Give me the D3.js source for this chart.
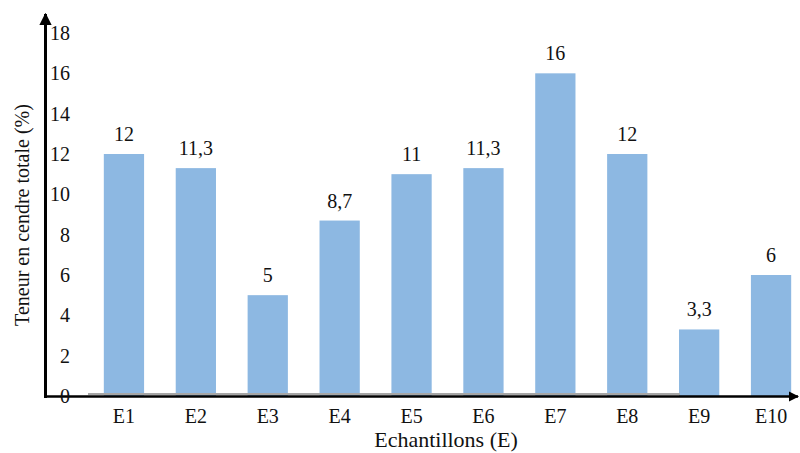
<!DOCTYPE html>
<html>
<head>
<meta charset="utf-8">
<script src="https://cdn.jsdelivr.net/npm/d3@7"></script>
</head>
<body style="margin:0">
<svg id="chart" width="800" height="453"></svg>
<script>
// Ash content per sample
const categories = ["E1", "E2", "E3", "E4", "E5", "E6", "E7", "E8", "E9", "E10"];
const values = [12, 11.3, 5, 8.7, 11, 11.3, 16, 12, 3.3, 6];
const yTicks = [0, 2, 4, 6, 8, 10, 12, 14, 16, 18];
const yTitle = "Teneur en cendre totale (%)";
const xTitle = "Echantillons (E)";

const FONT = "'Liberation Serif'";
const svg = d3.select("#chart");
const fmt = v => String(v).replace(".", ",");

const x = d3.scaleBand()
  .domain(categories)
  .range([88, 807])
  .paddingInner(0.44)
  .paddingOuter(0.22);

const y = d3.scaleLinear().domain([0, 18]).range([396, 33]);

// bars
svg.append("g").selectAll("rect")
  .data(categories)
  .join("rect")
  .attr("x", d => x(d))
  .attr("width", x.bandwidth())
  .attr("y", (d, i) => y(values[i]))
  .attr("height", (d, i) => y(0) - y(values[i]))
  .attr("fill", "#8db8e2");

// value labels
svg.append("g").selectAll("text")
  .data(categories)
  .join("text")
  .attr("x", d => x(d) + x.bandwidth() / 2)
  .attr("y", (d, i) => y(values[i]) - 13)
  .attr("text-anchor", "middle")
  .attr("font-size", 20)
  .style("font-family", FONT)
  .attr("fill", "#111")
  .text((d, i) => fmt(values[i]));

// gray plot baseline
svg.append("line")
  .attr("x1", 88).attr("x2", 680)
  .attr("y1", 394).attr("y2", 394)
  .attr("stroke", "#a6a6a6").attr("stroke-width", 2);

// arrow marker
const defs = svg.append("defs");
defs.append("marker")
  .attr("id", "arrow")
  .attr("viewBox", "0 0 10 10")
  .attr("refX", 9).attr("refY", 5)
  .attr("markerWidth", 4.2).attr("markerHeight", 4.2)
  .attr("markerUnits", "strokeWidth")
  .attr("orient", "auto")
  .append("path")
  .attr("d", "M0,0 L10,5 L0,10 Z")
  .attr("fill", "#000");

// axes lines with arrows
svg.append("line")
  .attr("x1", 44).attr("x2", 798)
  .attr("y1", 396.5).attr("y2", 396.5)
  .attr("stroke", "#000").attr("stroke-width", 2.5)
  .attr("marker-end", "url(#arrow)");

svg.append("line")
  .attr("x1", 45.5).attr("x2", 45.5)
  .attr("y1", 398).attr("y2", 14)
  .attr("stroke", "#000").attr("stroke-width", 3)
  .attr("marker-end", "url(#arrow)");

// y tick labels
const yAxis = d3.axisLeft(y).tickValues(yTicks).tickSize(0).tickFormat(d => d);
const gy = svg.append("g").attr("transform", "translate(70,0)").call(yAxis);
gy.attr("font-family", null).attr("font-size", null);
gy.select(".domain").remove();
gy.selectAll("text")
  .attr("font-size", 20)
  .style("font-family", FONT)
  .attr("fill", "#111")
  .attr("x", 0)
  .attr("dy", "0.33em")
  .attr("text-anchor", "end");

// x tick labels
const xAxis = d3.axisBottom(x).tickSize(0);
const gx = svg.append("g").attr("transform", "translate(0,402)").call(xAxis);
gx.attr("font-family", null).attr("font-size", null);
gx.select(".domain").remove();
gx.selectAll("text")
  .attr("font-size", 20)
  .style("font-family", FONT)
  .attr("fill", "#111")
  .attr("y", 0)
  .attr("dy", "1.05em");

// axis titles
svg.append("text")
  .attr("x", 446).attr("y", 447)
  .attr("text-anchor", "middle")
  .attr("font-size", 22)
  .style("font-family", FONT)
  .attr("fill", "#111")
  .text(xTitle);

svg.append("text")
  .attr("transform", "translate(29,215) rotate(-90)")
  .attr("text-anchor", "middle")
  .attr("font-size", 20)
  .style("font-family", FONT)
  .attr("fill", "#111")
  .text(yTitle);
</script>
</body>
</html>
